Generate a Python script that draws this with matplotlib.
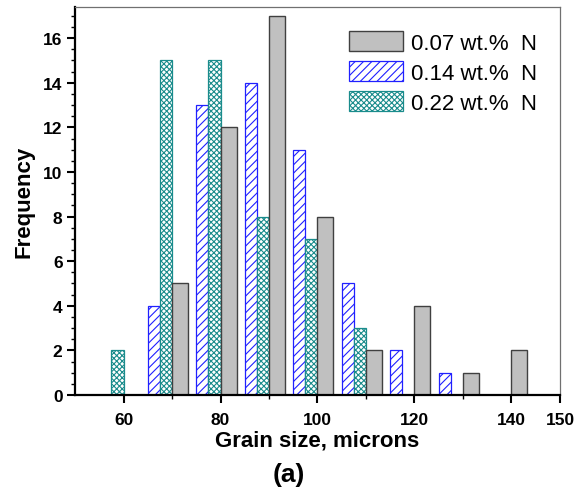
import matplotlib
matplotlib.use("Agg")
import matplotlib.pyplot as plt
from matplotlib.ticker import FixedLocator, MultipleLocator

# bin positions (microns) and counts for each nitrogen content
bins_007 = [70, 80, 90, 100, 110, 120, 130, 140]
freq_007 = [5, 12, 17, 8, 2, 4, 1, 2]

bins_014 = [70, 80, 90, 100, 110, 120, 130]
freq_014 = [4, 13, 14, 11, 5, 2, 1]

bins_022 = [60, 70, 80, 90, 100, 110]
freq_022 = [2, 15, 15, 8, 7, 3]

labels = ["0.07 wt.%  N", "0.14 wt.%  N", "0.22 wt.%  N"]

plt.rcParams["font.family"] = ["Liberation Sans", "DejaVu Sans"]
plt.rcParams["hatch.linewidth"] = 0.8

fig = plt.figure(figsize=(5.78, 4.89), dpi=100)
ax = fig.add_axes([0.1298, 0.1902, 0.839, 0.7935])

# offsets/widths are styling only: bars sit side by side around each bin
ax.bar([b - 5.0 for b in bins_014], freq_014, width=2.5, align="edge",
       facecolor="white", edgecolor="#2020ff", hatch="////", linewidth=0.9,
       label=labels[1], zorder=2)
ax.bar([b - 2.5 for b in bins_022], freq_022, width=2.5, align="edge",
       facecolor="white", edgecolor="#1a8c8c", hatch="xxxxxx", linewidth=0.9,
       label=labels[2], zorder=2)
ax.bar(bins_007, freq_007, width=3.3, align="edge",
       facecolor="#c0c0c0", edgecolor="#404040", linewidth=1.0,
       label=labels[0], zorder=2)

ax.set_xlim(50, 150)
ax.set_ylim(0, 17.4)

ax.xaxis.set_major_locator(FixedLocator([60, 80, 100, 120, 140, 150]))
ax.xaxis.set_minor_locator(FixedLocator([70, 90, 110, 130]))
ax.yaxis.set_major_locator(MultipleLocator(2))
ax.yaxis.set_minor_locator(MultipleLocator(0.5))

ax.tick_params(which="major", direction="out", length=6, width=1.5,
               labelsize=12.5)
ax.tick_params(axis="x", which="major", pad=6)
ax.tick_params(axis="y", which="major", pad=3)
ax.tick_params(which="minor", direction="out", length=3, width=1.0)
for lab in ax.get_xticklabels() + ax.get_yticklabels():
    lab.set_fontweight("bold")

for side in ["left", "bottom"]:
    ax.spines[side].set_linewidth(1.6)
    ax.spines[side].set_color("black")
for side in ["top", "right"]:
    ax.spines[side].set_linewidth(0.9)
    ax.spines[side].set_color("#707070")

ax.set_ylabel("Frequency", fontsize=16, fontweight="bold", labelpad=6)
ax.set_xlabel("Grain size, microns", fontsize=16, fontweight="bold", labelpad=2)
fig.text(0.5, 0.029, "(a)", fontsize=19, fontweight="bold", ha="center", va="center")

h, l = ax.get_legend_handles_labels()
order = [2, 0, 1]
ax.legend([h[i] for i in order], [l[i] for i in order],
          loc="upper left", bbox_to_anchor=(0.565, 0.937), frameon=False,
          fontsize=16, handlelength=2.45, handleheight=0.95,
          handletextpad=0.35, labelspacing=0.35, borderpad=0, borderaxespad=0)

fig.savefig("out.png", dpi=100)
